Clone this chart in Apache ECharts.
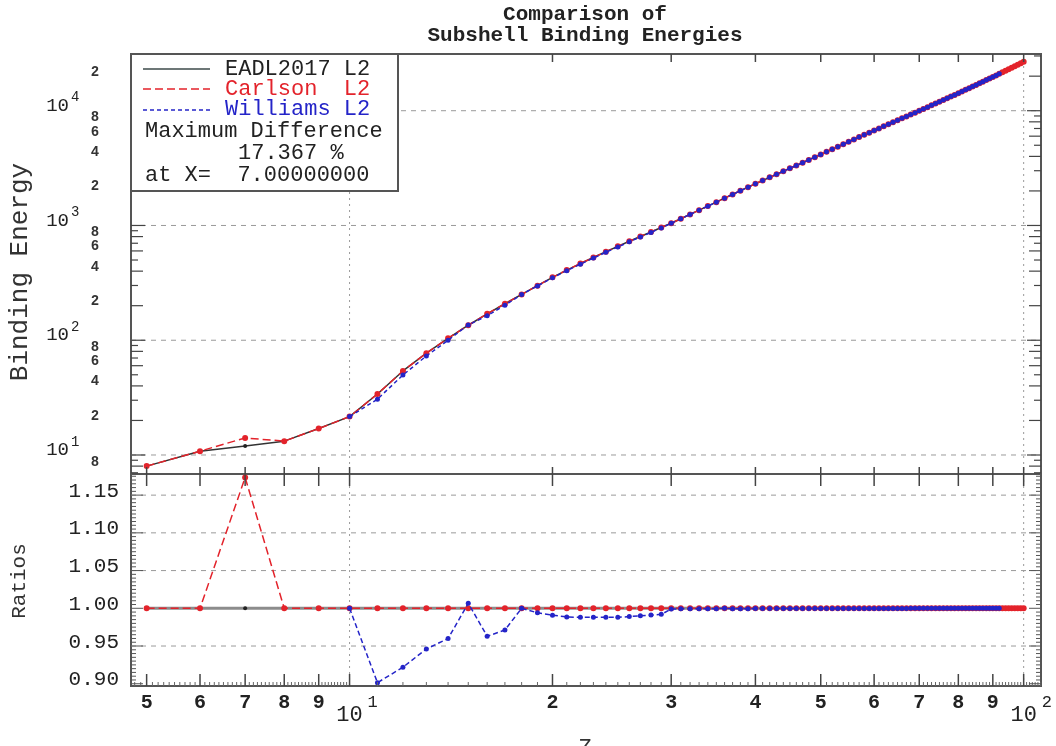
<!DOCTYPE html>
<html><head><meta charset="utf-8">
<script src="https://cdn.jsdelivr.net/npm/echarts@6/dist/echarts.min.js"></script>
<style>html,body{margin:0;padding:0;background:#fff}#c{width:1056px;height:746px}</style>
</head><body><div id="c"></div>
<script>
// ---- data ----
const eadlZFirst = 5;     // atomic number of the first entry of eadlL2 / carlsonL2
const eadlL2 = [8.0,10.8,12.0,13.2,17.0,21.6,34.0,54.0,77.1,104.0,
  135.1,169.9,208.0,250.6,299.1,353.2,408.3,465.8,526.1,590.9,
  657.8,727.9,801.2,877.9,960.0,1046,1144,1249,1360,1475,
  1597,1731,1865,2008,2157,2308,2466,2626,2794,2968,
  3147,3331,3525,3728,3939,4157,4381,4613,4853,5108,
  5360,5625,5892,6165,6441,6723,7014,7313,7618,7931,
  8253,8582,8919,9265,9618,9979,10350,10740,11137,11545,
  11960,12386,12825,13274,13735,14210,14699,15201,15712,16245,
  16786,17338,17908,18485,19084,19694,20315,20949,21600,22266,
  22952,23651,24371,25108,25865,26641];
const carlsonL2 = [8.0,10.8,14.08,13.2,17.0,21.6,34.0,54.0,77.1,104.0,
  135.1,169.9,208.0,250.6,299.1,353.2,408.3,465.8,526.1,590.9,
  657.8,727.9,801.2,877.9,960.0,1046,1144,1249,1360,1475,
  1597,1731,1865,2008,2157,2308,2466,2626,2794,2968,
  3147,3331,3525,3728,3939,4157,4381,4613,4853,5108,
  5360,5625,5892,6165,6441,6723,7014,7313,7618,7931,
  8253,8582,8919,9265,9618,9979,10350,10740,11137,11545,
  11960,12386,12825,13274,13735,14210,14699,15201,15712,16245,
  16786,17338,17908,18485,19084,19694,20315,20949,21600,22266,
  22952,23651,24371,25108,25865,26641];
const williamsZFirst = 10;
const williamsL2 = [21.6,30.65,49.78,72.95,99.82,136,163.6,202,250.6,297.3,
  350,403.6,460.2,519.8,583.8,649.9,719.9,793.2,870,952.3,
  1044.9,1143.2,1248.1,1359.1,1474.3,1596,1730.9,1864,2007,2156,
  2307,2465,2625,2793,2967,3146,3330,3524,3727,3938,
  4156,4380,4612,4852,5107,5359,5624,5891,6164,6440,
  6722,7013,7312,7617,7930,8252,8581,8918,9264,9617,
  9978,10349,10739,11136,11544,11959,12385,12824,13273,13734,
  14209,14698,15200,15711,16244,16785,17337,17907,18484,19083,
  19693,20314,20948];

// ---- tick values / labels ----
const xMajorTicks = [5,6,7,8,9,10,20,30,40,50,60,70,80,90,100];
const xLabelValues = [5,6,7,8,9,20,30,40,50,60,70,80,90];
const xLabelTexts  = ['5','6','7','8','9','2','3','4','5','6','7','8','9'];
const xDecades = [10,100];
const xDecadeExp = ['1','2'];
const yTopDecades = [10,100,1000,10000];
const yTopDecadeExp = ['1','2','3','4'];
const yTopMinorLabelValues = [8,20,40,60,80,200,400,600,800,2000,4000,6000,8000,20000];
const yTopMinorLabelTexts  = ['8','2','4','6','8','2','4','6','8','2','4','6','8','2'];
const ratioLabelValues = [0.90,0.95,1.00,1.05,1.10,1.15];
const ratioLabelTexts  = ['0.90','0.95','1.00','1.05','1.10','1.15'];
const ratioGridValues = [0.95,1.05,1.10,1.15];

const X_MIN = 4.74, X_MAX = 106.1, YT_MIN = 6.83, YT_MAX = 31200, YR_MIN = 0.897, YR_MAX = 1.178;

// ---- build series data ----
const eadlPts = eadlL2.map((v,i)=>[eadlZFirst+i, v]);
const carlPts = carlsonL2.map((v,i)=>[eadlZFirst+i, v]);
const willPts = williamsL2.map((v,i)=>[williamsZFirst+i, v]);
const eadlAt = z => eadlL2[z-eadlZFirst];
const eadlRatio = eadlL2.map((v,i)=>[eadlZFirst+i, v/eadlL2[i]]);
const carlRatio = carlsonL2.map((v,i)=>[eadlZFirst+i, v/eadlL2[i]]);
const willRatio = williamsL2.map((v,i)=>[williamsZFirst+i, v/eadlAt(williamsZFirst+i)]);

const RED = '#e3232b', BLUE = '#2424c8', BLK = '#222';
const FONT = '"Liberation Mono", "DejaVu Sans Mono", monospace';

const hidden = {axisLine:{show:false},axisTick:{show:false},axisLabel:{show:false},splitLine:{show:false}};
const chart = echarts.init(document.getElementById('c'));
chart.setOption({
  animation:false,
  backgroundColor:'#fff',
  grid:[
    {left:131, top:54, width:910, height:420, show:true, borderColor:'#555', borderWidth:2},
    {left:131, top:474, width:910, height:212, show:true, borderColor:'#555', borderWidth:2}
  ],
  xAxis:[
    Object.assign({type:'log', logBase:10, gridIndex:0, min:X_MIN, max:X_MAX}, hidden),
    Object.assign({type:'log', logBase:10, gridIndex:1, min:X_MIN, max:X_MAX}, hidden)
  ],
  yAxis:[
    Object.assign({type:'log', logBase:10, gridIndex:0, min:YT_MIN, max:YT_MAX}, hidden),
    Object.assign({type:'value', gridIndex:1, min:YR_MIN, max:YR_MAX, scale:true}, hidden)
  ],
  series:[
    {type:'line', xAxisIndex:0, yAxisIndex:0, data:eadlPts, symbol:'circle', symbolSize:4,
      itemStyle:{color:BLK}, lineStyle:{color:'#333', width:1.5}, z:2},
    {type:'line', xAxisIndex:0, yAxisIndex:0, data:carlPts, symbol:'circle', symbolSize:6,
      itemStyle:{color:RED}, lineStyle:{color:RED, width:1.5, type:[8,4]}, z:3},
    {type:'line', xAxisIndex:0, yAxisIndex:0, data:willPts, symbol:'circle', symbolSize:5,
      itemStyle:{color:BLUE}, lineStyle:{color:BLUE, width:1.5, type:[4,3]}, z:4},
    {type:'line', xAxisIndex:1, yAxisIndex:1, data:eadlRatio, symbol:'circle', symbolSize:4,
      itemStyle:{color:BLK}, lineStyle:{color:'#8c8c8c', width:3}, z:2},
    {type:'line', xAxisIndex:1, yAxisIndex:1, data:carlRatio, symbol:'circle', symbolSize:6,
      itemStyle:{color:RED}, lineStyle:{color:RED, width:1.5, type:[8,4]}, z:3},
    {type:'line', xAxisIndex:1, yAxisIndex:1, data:willRatio, symbol:'circle', symbolSize:5,
      itemStyle:{color:BLUE}, lineStyle:{color:BLUE, width:1.5, type:[5,3]}, z:4}
  ]
});

// ---- axes furniture via the chart's own scales ----
const P = (g,x,y)=>chart.convertToPixel({gridIndex:g},[x,y]);
const L = P(0,X_MIN,YT_MIN)[0], R = P(0,X_MAX,YT_MIN)[0];
const T = P(0,X_MIN,YT_MAX)[1], M = P(0,X_MIN,YT_MIN)[1], B = P(1,X_MIN,YR_MIN)[1];
const g = [];
const line = (x1,y1,x2,y2,stroke,w,dash,z)=>g.push({type:'line', z:z||50, silent:true,
  shape:{x1,y1,x2,y2}, style:{stroke, lineWidth:w, lineDash:dash||null}});
const text = (t,x,y,font,fill,align,va,z,rot)=>g.push({type:'text', z:z||50, silent:true, x, y, rotation:rot||0,
  style:{text:t, x:0, y:0, font, fill:fill||'#222', align:align||'center', verticalAlign:va||'middle'}});

// gridlines
yTopDecades.forEach(v=>{const y=P(0,10,v)[1]; line(L,y,R,y,'#9a9a9a',1,[5,5],1);});
ratioGridValues.forEach(v=>{const y=P(1,10,v)[1]; line(L,y,R,y,'#9a9a9a',1,[5,5],1);});
xDecades.forEach(v=>{const x=P(1,v,1)[0]; line(x,T,x,B,'#9a9a9a',1,[2,4],1);});

// x ticks
xMajorTicks.forEach(v=>{const x=P(1,v,1)[0];
  line(x,B,x,B-12,'#444',1.5); line(x,M,x,M+12,'#444',1.5);
  line(x,M,x,M-7,'#444',1.5); line(x,T,x,T+8,'#444',1.5);});
for(let k=48;k<100;k++){ if(k%10){const x=P(1,k/10,1)[0]; line(x,B,x,B-4,'#666',1);} }
for(let k=11;k<=106;k++){ if(k%10){const x=P(1,k,1)[0]; line(x,B,x,B-4,'#666',1);} }

// y ticks top panel
[1,10,100,1000,10000].forEach(d=>{ for(let m=2;m<=10;m++){ const v=m*d; if(v<YT_MIN||v>YT_MAX) continue;
  const y=P(0,10,v)[1]; const len=(m===10)?14:(m%2===0?12:7);
  line(L,y,L+len,y,'#444',1.2); line(R,y,R-len,y,'#444',1.2);} });
// y ticks ratio panel
for(let k=900;k<=1175;k+=5){ const y=P(1,10,k/1000)[1]; const len=(k%50===0)?12:5;
  line(L,y,L+len,y,'#555',1); line(R,y,R-len,y,'#555',1); }

// labels
const LBL = 'bold 20px '+FONT;
xLabelValues.forEach((v,i)=>{const x=P(1,v,1)[0]; text(xLabelTexts[i],x,B+17,LBL,'#222');});
xDecades.forEach((v,i)=>{const x=P(1,v,1)[0]; text('10',x,B+29,'22px '+FONT,'#222');
  text(xDecadeExp[i],x+18,B+16,'17px '+FONT,'#222','left');});
yTopDecades.forEach((v,i)=>{const y=P(0,10,v)[1]; text('10',69,y-5,'19px '+FONT,'#222','right');
  text(yTopDecadeExp[i],71,y-13,'14px '+FONT,'#222','left');});
yTopMinorLabelValues.forEach((v,i)=>{const y=P(0,10,v)[1]; text(yTopMinorLabelTexts[i],95,y-4,'bold 14px '+FONT,'#333');});
ratioLabelValues.forEach((v,i)=>{const y=P(1,10,v)[1]; text(ratioLabelTexts[i],119,y-4,'21px '+FONT,'#222','right');});

// axis titles & title
text('Comparison of',585,15,'bold 21px '+FONT,'#222');
text('Subshell Binding Energies',585,36,'bold 21px '+FONT,'#222');
text('Binding Energy',20,272,'26px '+FONT,'#333','center','middle',50,Math.PI/2);
text('Ratios',19,581,'21px '+FONT,'#333','center','middle',50,Math.PI/2);
text('Z',585,737,'22px '+FONT,'#333','center','top');

// legend box
g.push({type:'rect', z:100, silent:true, shape:{x:L,y:T,width:267,height:137}, style:{fill:'#fff', stroke:'#555', lineWidth:2}});
line(143,69,210,69,'#3d4a4a',1.5,null,101);
line(143,89,210,89,RED,1.5,[8,4],101);
line(143,110,210,110,BLUE,1.5,[4,3],101);
const LF = '22px '+FONT;
text('EADL2017 L2',225,69,LF,'#222','left','middle',101);
text('Carlson  L2',225,89,LF,RED,'left','middle',101);
text('Williams L2',225,109,LF,BLUE,'left','middle',101);
text('Maximum Difference',145,131,LF,'#222','left','middle',101);
text('17.367 %',238,153,LF,'#222','left','middle',101);
text('at X=  7.00000000',145,175,LF,'#222','left','middle',101);

chart.setOption({graphic:{elements:g}});
</script></body></html>
